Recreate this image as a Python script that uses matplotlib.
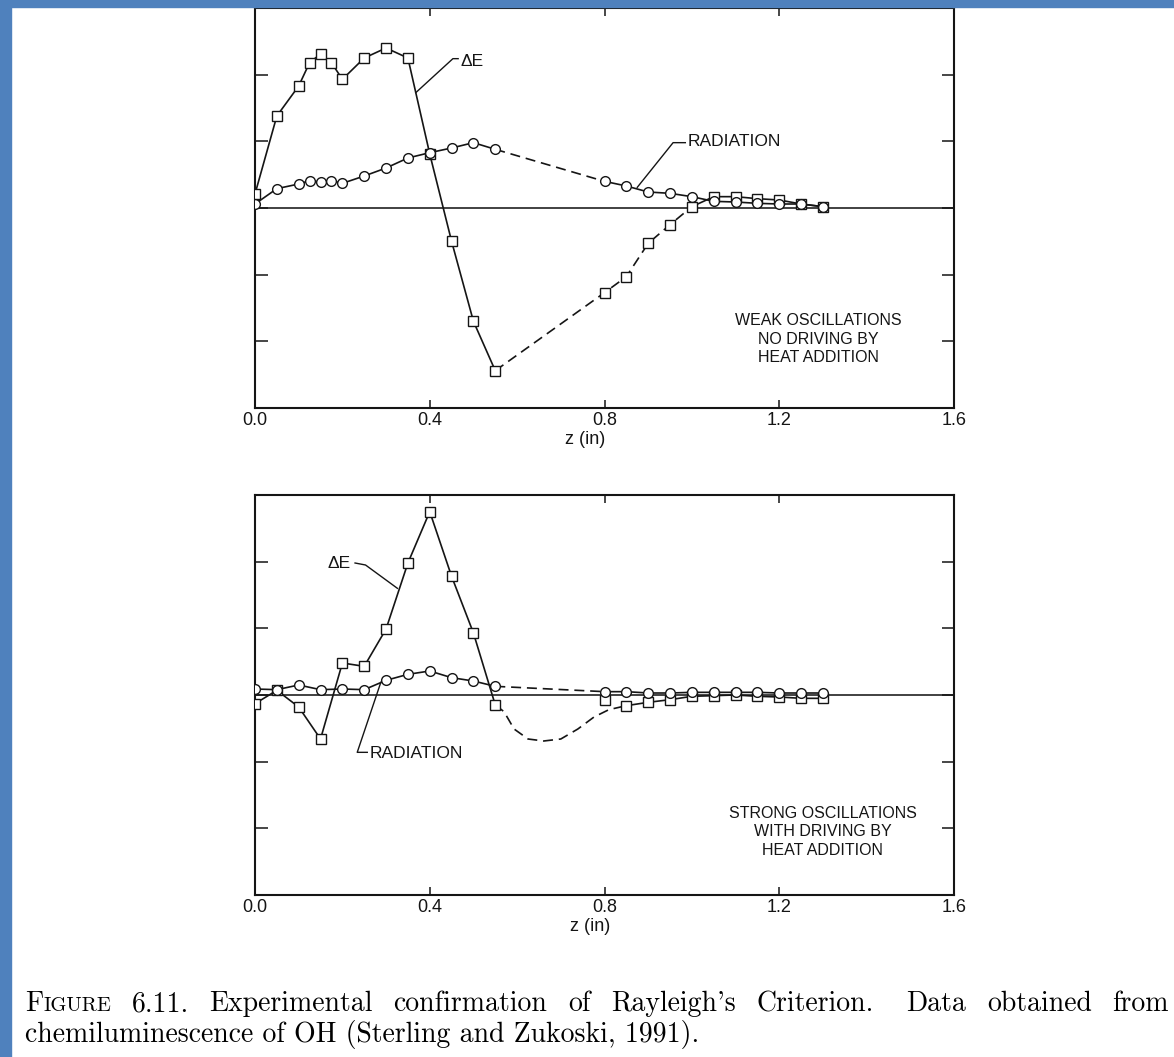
"""Rayleigh criterion figure: Delta-E and OH radiation profiles along z,
weak oscillations (top) and strong oscillations (bottom)."""
import matplotlib
matplotlib.use("Agg")
import matplotlib.pyplot as plt
from matplotlib.patches import Rectangle

W, H = 1174, 1057
INK = "#151515"
FRAME_BLUE = "#4f81bd"
SANS = "Liberation Sans"

# weak oscillations (top panel)
z_weak = [0.0, 0.05, 0.10, 0.125, 0.15, 0.175, 0.20, 0.25, 0.30, 0.35, 0.40, 0.45, 0.50,
          0.55, 0.80, 0.85, 0.90, 0.95, 1.00, 1.05, 1.10, 1.15, 1.20, 1.25, 1.30]
de_weak = [0.21, 1.38, 1.83, 2.18, 2.31, 2.18, 1.93, 2.25, 2.40, 2.25, 0.81, -0.50, -1.70,
           -2.44, -1.27, -1.03, -0.53, -0.25, 0.02, 0.17, 0.17, 0.14, 0.12, 0.06, 0.02]
rad_weak = [0.06, 0.29, 0.36, 0.41, 0.39, 0.41, 0.37, 0.48, 0.60, 0.75, 0.83, 0.90, 0.98,
            0.88, 0.40, 0.33, 0.24, 0.22, 0.17, 0.10, 0.09, 0.07, 0.06, 0.06, 0.02]

# strong oscillations (bottom panel)
z_strong = [0.0, 0.05, 0.10, 0.15, 0.20, 0.25, 0.30, 0.35, 0.40, 0.45, 0.50, 0.55,
            0.80, 0.85, 0.90, 0.95, 1.00, 1.05, 1.10, 1.15, 1.20, 1.25, 1.30]
de_strong = [-0.13, 0.07, -0.18, -0.66, 0.48, 0.43, 0.99, 1.98, 2.75, 1.78, 0.93, -0.15,
             -0.07, -0.16, -0.11, -0.07, -0.02, -0.01, 0.0, -0.02, -0.03, -0.05, -0.05]
rad_strong = [0.09, 0.08, 0.15, 0.08, 0.09, 0.08, 0.22, 0.31, 0.36, 0.26, 0.21, 0.13,
              0.05, 0.05, 0.03, 0.03, 0.04, 0.04, 0.04, 0.04, 0.03, 0.03, 0.03]
# faired (dashed) Delta-E curve through the unmeasured gap
z_strong_fair = [0.55, 0.57, 0.593, 0.625, 0.661, 0.70, 0.739, 0.776, 0.81, 0.85]
de_strong_fair = [-0.15, -0.25, -0.51, -0.66, -0.69, -0.66, -0.51, -0.33, -0.22, -0.16]

x_ticks = [0.0, 0.4, 0.8, 1.2, 1.6]
x_ticklabels = ["0.0", "0.4", "0.8", "1.2", "1.6"]
y_ticks = [-2, -1, 0, 1, 2]

caption_line1 = ["6.11.", "Experimental", "confirmation", "of", "Rayleigh's",
                 "Criterion.", "Data", "obtained", "from"]
caption_line2 = "chemiluminescence of OH (Sterling and Zukoski, 1991)."

LINE = dict(color=INK, lw=1.2)
DASH = dict(color=INK, lw=1.2, dashes=(6, 3.5))
SQUARE = dict(ls="none", marker="s", ms=7.5, mfc="white", mec=INK, mew=1.0, zorder=4)
CIRCLE = dict(ls="none", marker="o", ms=7.0, mfc="white", mec=INK, mew=1.0, zorder=5)
CAPTION = dict(family="cmr10", va="baseline", color="black")


def draw_series(ax, z, v, gap_start, gap_end, marker):
    """Solid line, dashed across the gap [gap_start, gap_end], solid again, then markers."""
    ax.plot(z[:gap_start + 1], v[:gap_start + 1], **LINE)
    ax.plot(z[gap_start:gap_end + 1], v[gap_start:gap_end + 1], **DASH)
    ax.plot(z[gap_end:], v[gap_end:], **LINE)
    ax.plot(z, v, **marker)


def style_axes(ax, label_x):
    ax.set_xlim(0, 1.6)
    ax.set_ylim(-3, 3)
    ax.axhline(0, color="#333333", lw=1.3, zorder=1)
    ax.set_xticks(x_ticks)
    ax.set_xticklabels(x_ticklabels, fontsize=13, family=SANS)
    ax.set_yticks(y_ticks)
    ax.set_yticklabels([])
    ax.tick_params(axis="x", direction="in", length=6, width=1.1, top=True, pad=3, colors=INK)
    ax.tick_params(axis="y", direction="in", length=9, width=1.1, right=True, colors=INK)
    for spine in ax.spines.values():
        spine.set_linewidth(1.5)
        spine.set_color(INK)
    ax.set_xlabel("z (in)", fontsize=13, family=SANS, color=INK)
    ax.xaxis.set_label_coords(label_x, -0.058)


fig = plt.figure(figsize=(W / 100, H / 100), dpi=100)

# --- top panel: weak oscillations ---
ax = fig.add_axes([255 / W, 1 - 408 / H, 699 / W, 400 / H])
style_axes(ax, 0.472)
draw_series(ax, z_weak, de_weak, 13, 18, SQUARE)
draw_series(ax, z_weak, rad_weak, 13, 14, CIRCLE)
ax.plot([0.368, 0.453, 0.465], [1.73, 2.24, 2.24], color=INK, lw=1.0)
ax.text(0.47, 2.2, "ΔE", fontsize=12.5, family=SANS, va="center", color=INK)
ax.plot([0.875, 0.957, 0.985], [0.31, 0.98, 0.98], color=INK, lw=1.0)
ax.text(0.99, 1.0, "RADIATION", fontsize=12.5, family=SANS, va="center", color=INK)
ax.text(1.29, -1.97, "WEAK OSCILLATIONS\nNO DRIVING BY\nHEAT ADDITION",
        fontsize=11.5, family=SANS, ha="center", va="center", linespacing=1.3, color=INK)

# --- bottom panel: strong oscillations ---
ax = fig.add_axes([255 / W, 1 - 895 / H, 699 / W, 400 / H])
style_axes(ax, 0.48)
ax.plot(z_strong[:12], de_strong[:12], **LINE)
ax.plot(z_strong_fair, de_strong_fair, **DASH)
ax.plot(z_strong[13:], de_strong[13:], **LINE)
ax.plot(z_strong, de_strong, **SQUARE)
draw_series(ax, z_strong, rad_strong, 11, 12, CIRCLE)
ax.plot([0.229, 0.253, 0.326], [1.98, 1.95, 1.60], color=INK, lw=1.0)
ax.text(0.166, 1.98, "ΔE", fontsize=12.5, family=SANS, va="center", color=INK)
ax.plot([0.288, 0.234, 0.257], [0.19, -0.86, -0.86], color=INK, lw=1.0)
ax.text(0.262, -0.88, "RADIATION", fontsize=12.5, family=SANS, va="center", color=INK)
ax.text(1.30, -2.05, "STRONG OSCILLATIONS\nWITH DRIVING BY\nHEAT ADDITION",
        fontsize=11.5, family=SANS, ha="center", va="center", linespacing=1.3, color=INK)

# --- page frame (blue strips from the screenshot) ---
fig.patches.append(Rectangle((0, 0), 11 / W, 1, transform=fig.transFigure,
                             color=FRAME_BLUE, zorder=10))
fig.patches.append(Rectangle((0, 1 - 7 / H), 1, 7 / H, transform=fig.transFigure,
                             color=FRAME_BLUE, zorder=10))

# --- caption: small-caps "FIGURE", then a justified first line ---
renderer = fig.canvas.get_renderer()
left_px, right_px = 25, 1169
y1, y2 = 1 - 1011 / H, 1 - 1042 / H
t = fig.text(left_px / W, y1, "F", fontsize=20, **CAPTION)
x_px = t.get_window_extent(renderer).x1
t = fig.text(x_px / W, y1, "IGURE", fontsize=14.8, **CAPTION)
x_px = t.get_window_extent(renderer).x1

words = [fig.text(0, y1, w, fontsize=20, **CAPTION) for w in caption_line1]
widths = [w.get_window_extent(renderer).width for w in words]
gap_weights = [1.0] * len(words)
gap_weights[caption_line1.index("Data")] = 1.6  # sentence space
gap = (right_px - x_px - sum(widths)) / sum(gap_weights)
for word, width, weight in zip(words, widths, gap_weights):
    x_px += gap * weight
    word.set_x(x_px / W)
    x_px += width

fig.text(left_px / W, y2, caption_line2, fontsize=20, **CAPTION)

fig.savefig("out.png", dpi=100)
plt.close(fig)
